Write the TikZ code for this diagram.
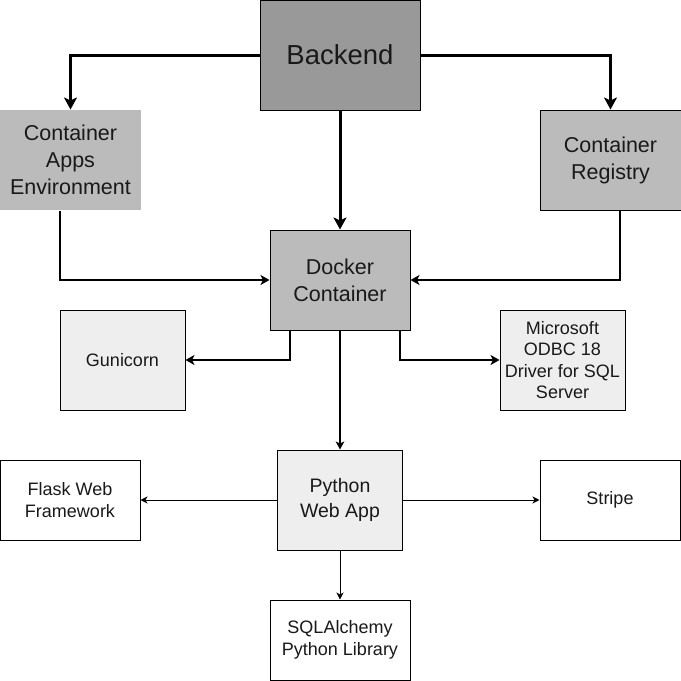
\documentclass[tikz,border=0pt]{standalone}
\usepackage{fontspec}
\setmainfont{Liberation Sans}
\usetikzlibrary{arrows.meta}
\definecolor{bgdark}{HTML}{999999}
\definecolor{bgmid}{HTML}{BBBBBB}
\definecolor{bglight}{HTML}{EEEEEE}
\tikzset{
  box/.style={draw=black, line width=1pt, align=center, inner sep=0pt, text=black!90},
  fsbig/.style={font={\fontsize{27.5}{31}\selectfont}},
  fsmid/.style={font={\fontsize{21.5}{27}\selectfont}},
  fspy/.style={font={\fontsize{19.5}{25}\selectfont}},
  fssmall/.style={font={\fontsize{18}{21.5}\selectfont}},
  conthick/.style={line width=3pt, -{Stealth[length=12pt,width=13pt,inset=3pt]}},
  conmed/.style={line width=2pt, -{Stealth[length=9pt,width=10pt,inset=2.5pt]}},
  conmedthin/.style={line width=1.5pt, -{Stealth[length=8pt,width=8.5pt,inset=2pt]}},
  conthin/.style={line width=1pt, -{Stealth[length=7pt,width=7pt,inset=2pt]}},
}
\begin{document}
\begin{tikzpicture}[x=1pt,y=-1pt]
\useasboundingbox (0,0) rectangle (681,681);
\fill[white] (0,0) rectangle (681,681);
% nodes
\node[box, fill=bgdark, fsbig, minimum width=160pt, minimum height=110pt] (backend) at (340,55) {Backend};
\node[box, draw=none, fill=bgmid, fsmid, minimum width=141pt, minimum height=100pt] (cae) at (70.5,160) {Container\\Apps\\Environment};
\node[box, fill=bgmid, fsmid, minimum width=141pt, minimum height=100pt] (reg) at (610.5,160) {Container\\Registry};
\node[box, fill=bgmid, fsmid, minimum width=140pt, minimum height=100pt] (docker) at (340,280) {Docker\\Container};
\node[box, fill=bglight, fssmall, minimum width=125pt, minimum height=100pt] (gun) at (122.5,360) {Gunicorn};
\node[box, fill=bglight, fssmall, minimum width=125pt, minimum height=100pt] (odbc) at (562.5,360) {Microsoft\\ODBC 18\\Driver for SQL\\Server};
\node[box, fill=bglight, fspy, minimum width=125pt, minimum height=100pt] (py) at (340,500) {Python\\Web App};
\node[box, fill=white, fssmall, minimum width=140pt, minimum height=80pt] (flask) at (70,500) {Flask Web\\Framework};
\node[box, fill=white, fssmall, minimum width=140pt, minimum height=80pt] (stripe) at (610,500) {Stripe};
\node[box, fill=white, fssmall, minimum width=140pt, minimum height=80pt] (sql) at (340,640) {SQLAlchemy\\Python Library};
% connectors
\draw[conthick] (backend.west) -| (cae.north);
\draw[conthick] (backend.east) -| (reg.north);
\draw[conthick] (backend.south) -- (docker.north);
\draw[conmed] ([xshift=-10.5pt]cae.south) |- (docker.west);
\draw[conmed] ([xshift=9.5pt]reg.south) |- (docker.east);
\draw[conmed] ([xshift=-50pt]docker.south) |- (gun.east);
\draw[conmed] ([xshift=60pt]docker.south) |- (odbc.west);
\draw[conmedthin] (docker.south) -- (py.north);
\draw[conthin] (py.west) -- (flask.east);
\draw[conthin] (py.east) -- (stripe.west);
\draw[conthin] (py.south) -- (sql.north);
\end{tikzpicture}
\end{document}
